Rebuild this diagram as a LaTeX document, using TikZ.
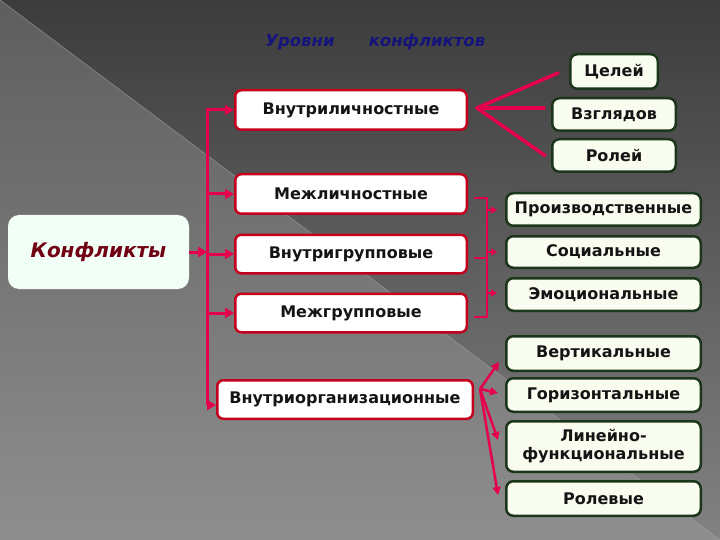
\documentclass[tikz,border=0pt]{standalone}
\usepackage{fontspec}
\setmainfont{DejaVu Sans}
\usetikzlibrary{arrows.meta}
\definecolor{arrowred}{HTML}{E6004C}
\definecolor{boxred}{HTML}{C4001C}
\definecolor{boxgreen}{HTML}{1C361C}
\definecolor{cream}{HTML}{F8FDEF}
\definecolor{mint}{HTML}{F2FFF6}
\definecolor{titleblue}{HTML}{14147A}
\definecolor{konfred}{HTML}{700012}
\begin{document}
\begin{tikzpicture}[x=1pt,y=-1pt,
 lvl/.style={draw=boxred, line width=2.5pt, fill=white, rounded corners=6pt, inner sep=0pt,
   font=\bfseries\fontsize{16}{18}\selectfont, text=black!92},
 sub/.style={draw=boxgreen, line width=2.5pt, fill=cream, rounded corners=7pt, inner sep=0pt,
   align=center, font=\bfseries\fontsize{16}{18}\selectfont, text=black!92},
 conn/.style={draw=arrowred, line width=3pt},
 arr/.style={conn, -{Triangle[length=9pt,width=10pt]}},
 thinconn/.style={draw=arrowred, line width=2pt},
 dotarr/.style={thinconn, -{Triangle[length=6pt,width=7pt]}},
 fanarr/.style={draw=arrowred, line width=2.5pt, -{Triangle[length=8pt,width=8pt]}},
 ttl/.style={text=titleblue, font=\bfseries\itshape\fontsize{16.5}{19}\selectfont},
]
\useasboundingbox (0,0) rectangle (720,540);
% background
\fill[top color={rgb,255:red,94;green,94;blue,94}, bottom color={rgb,255:red,142;green,142;blue,142}] (0,0) rectangle (720,540);
\fill[top color={rgb,255:red,60;green,60;blue,60}, bottom color={rgb,255:red,130;green,130;blue,130}] (0,0) -- (720,0) -- (720,540) -- cycle;
\draw[white!60!gray, opacity=0.5, line width=0.7pt] (0,0) -- (720,540);

% title
\node[ttl] (t1) at (300,42) {Уровни};
\node[ttl] (t2) at (427,42) {конфликтов};

% main box
\node[fill=mint, rounded corners=11pt, minimum width=181pt, minimum height=74pt, inner sep=0pt,
  text=konfred, font=\bfseries\itshape\fontsize{20}{24}\selectfont] (konf) at (98.5,252) {Конфликты};

% level boxes
\node[lvl, minimum width=231.5pt, minimum height=39.5pt] (n1) at (351,110) {Внутриличностные};
\node[lvl, minimum width=231.5pt, minimum height=39.5pt] (n2) at (351,194) {Межличностные};
\node[lvl, minimum width=231.5pt, minimum height=38.5pt] (n3) at (351,254) {Внутригрупповые};
\node[lvl, minimum width=231.5pt, minimum height=38.5pt] (n4) at (351,313) {Межгрупповые};
\node[lvl, minimum width=255.5pt, minimum height=38.5pt] (n5) at (345,399.5) {Внутриорганизационные};

% sub boxes group 1
\node[sub, minimum width=87.5pt, minimum height=34.5pt] (a1) at (614,71.5) {Целей};
\node[sub, minimum width=123.5pt, minimum height=32.5pt] (a2) at (614,114.5) {Взглядов};
\node[sub, minimum width=123.5pt, minimum height=32.5pt] (a3) at (614,155.5) {Ролей};
% group 2
\node[sub, minimum width=194.5pt, minimum height=32.5pt] (b1) at (603.5,209.5) {Производственные};
\node[sub, minimum width=194.5pt, minimum height=31.5pt] (b2) at (603.5,252) {Социальные};
\node[sub, minimum width=194.5pt, minimum height=32.5pt] (b3) at (603.5,294.5) {Эмоциональные};
% group 3
\node[sub, minimum width=194.5pt, minimum height=34.5pt] (c1) at (603.5,353.5) {Вертикальные};
\node[sub, minimum width=194.5pt, minimum height=33.5pt] (c2) at (603.5,395) {Горизонтальные};
\node[sub, minimum width=194.5pt, minimum height=50.5pt] (c3) at (603.5,446.5) {Линейно-\\функциональные};
\node[sub, minimum width=194.5pt, minimum height=34.5pt] (c4) at (603.5,498.5) {Ролевые};

% left bus
\coordinate (bb) at (207,405);
\coordinate (bx) at (207,110);
\draw[arr] (bb) |- (n1.west);
\draw[arr] (n2.west -| bx) -- (n2.west);
\draw[arr] (n3.west -| bx) -- (n3.west);
\draw[arr] (n4.west -| bx) -- (n4.west);
\draw[arr] (bb) -- (n5.west |- bb);
\draw[arr] (konf.east) -- (konf.east -| bx);

% fan from n1
\coordinate (f1) at (477,108);
\draw[conn, line width=3.5pt, line cap=round] (f1) -- ([xshift=-11pt,yshift=-1.5pt]a1.west);
\draw[conn, line width=3.5pt, line cap=round] (f1) -- ([xshift=-7pt,yshift=6.5pt]a2.west);
\draw[conn, line width=3.5pt, line cap=round] (f1) -- ([xshift=-6pt]a3.west);

% bracket to group 2
\coordinate (k1) at (474,198);
\coordinate (k2) at (474,258);
\coordinate (k3) at (474,317);
\coordinate (kv) at (487,198);
\draw[thinconn] (k1) -- (kv) -- (kv |- k3) -- (k3);
\draw[thinconn] (k2) -- (k2 -| kv);
\draw[dotarr] (kv |- 0,210) -- ([xshift=-8pt]b1.west |- 0,210);
\draw[dotarr] (kv |- 0,252) -- ([xshift=-8pt]b2.west);
\draw[dotarr] (kv |- 0,293) -- ([xshift=-8pt]b3.west |- 0,293);

% fan from n5
\coordinate (f2) at (480,389);
\draw[fanarr] (f2) -- ([xshift=-6pt]c1.west |- 0,362);
\draw[fanarr] (f2) -- ([xshift=-7pt]c2.west |- 0,393);
\draw[fanarr] (f2) -- ([xshift=-7pt]c3.west |- 0,440);
\draw[fanarr] (f2) -- ([xshift=-7pt]c4.west |- 0,495);
\end{tikzpicture}
\end{document}
